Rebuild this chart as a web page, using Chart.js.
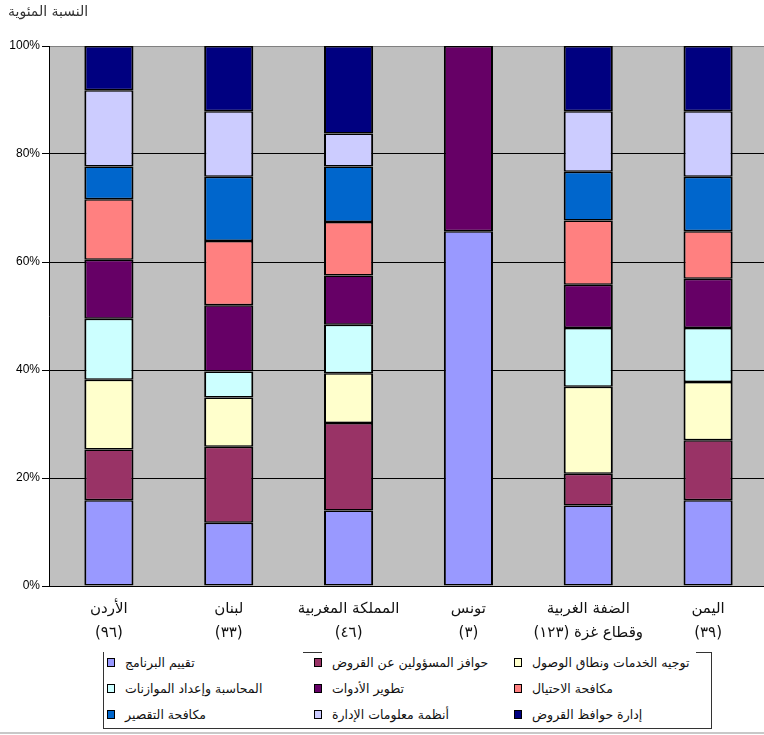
<!DOCTYPE html>
<html>
<head>
<meta charset="utf-8">
<script src="https://cdn.jsdelivr.net/npm/chart.js@4.4.1/dist/chart.umd.min.js"></script>
<style>
  html, body { margin: 0; padding: 0; background: #fff; overflow: hidden; }
  #wrap { position: relative; width: 764px; height: 735px; overflow: hidden; }
  #predChart { position: absolute; left: 0; top: 0; }
  #yTitle {
    position: absolute; left: 8px; top: 3px;
    font: 14px "DejaVu Sans", sans-serif; color: #333; direction: rtl;
  }
  #legend {
    position: absolute; left: 103px; top: 652px; width: 607px; height: 76px;
    border-left: 1px solid #333; border-right: 1px solid #333; border-bottom: 1px solid #333;
  }
  #legend .seg { position: absolute; top: 0; height: 1px; background: #333; }
  #legend .item {
    position: absolute; display: flex; align-items: center;
    font: 12.5px "DejaVu Sans", sans-serif; color: #111; white-space: nowrap;
  }
  #legend .sw { width: 6px; height: 7px; border: 1px solid #000; margin-right: 10px; }
  #bottomLine { position: absolute; left: 0; top: 732px; width: 764px; height: 2px; background: #c8c8c8; }
</style>
</head>
<body>
<div id="wrap">
  <canvas id="predChart" width="768" height="645"></canvas>
  <div id="yTitle">النسبة المئوية</div>
  <div id="legend"></div>
  <div id="bottomLine"></div>
</div>
<script>
// ===== Data
const categories = [
  ['الأردن', '(٩٦)'],
  ['لبنان', '(٣٣)'],
  ['المملكة المغربية', '(٤٦)'],
  ['تونس', '(٣)'],
  ['الضفة الغربية', 'وقطاع غزة (١٢٣)'],
  ['اليمن', '(٣٩)']
];
const seriesNames = [
  'تقييم البرنامج',
  'حوافز المسؤولين عن القروض',
  'توجيه الخدمات ونطاق الوصول',
  'المحاسبة وإعداد الموازنات',
  'تطوير الأدوات',
  'مكافحة الاحتيال',
  'مكافحة التقصير',
  'أنظمة معلومات الإدارة',
  'إدارة حوافظ القروض'
];
const seriesColors = ['#9999FF', '#993366', '#FFFFCC', '#CCFFFF', '#660066', '#FF8080', '#0066CC', '#CCCCFF', '#000080'];

const programEval   = [15.9, 11.7, 14.0, 65.7, 14.9, 15.9];
const officerIncent = [9.4, 14.1, 16.2, null, 5.9, 11.1];
const outreach      = [12.9, 9.1, 9.2, null, 16.1, 10.8];
const accounting    = [11.3, 4.8, 9.0, null, 10.9, 10.0];
const toolsDev      = [10.9, 12.3, 9.1, 34.3, 8.0, 9.1];
const fraud         = [11.2, 11.9, 9.9, null, 11.9, 8.8];
const delinquency   = [6.1, 11.9, 10.3, null, 9.0, 10.1];
const mis           = [14.1, 12.1, 6.1, null, 11.2, 12.1];
const portfolio     = [8.2, 12.1, 16.2, null, 12.1, 12.1];
const seriesValues = [programEval, officerIncent, outreach, accounting, toolsDev, fraud, delinquency, mis, portfolio];

const yTicks = [0, 20, 40, 60, 80, 100];

// ===== Plot background
const plotBg = {
  id: 'plotBg',
  beforeDraw(chart) {
    const { ctx, chartArea: a } = chart;
    ctx.save();
    ctx.fillStyle = '#C0C0C0';
    ctx.fillRect(a.left, a.top, a.right - a.left, a.bottom - a.top);
    ctx.restore();
  }
};

const ctx = document.getElementById('predChart').getContext('2d');
const chart = new Chart(ctx, {
  type: 'bar',
  data: {
    labels: categories,
    datasets: seriesNames.map((name, i) => ({
      label: name,
      data: seriesValues[i],
      backgroundColor: seriesColors[i],
      borderColor: '#000',
      borderWidth: { left: 2, right: 2, top: 1.5, bottom: 1.5 },
      borderSkipped: false,
      barPercentage: 0.41,
      categoryPercentage: 1
    }))
  },
  plugins: [plotBg],
  options: {
    responsive: false,
    animation: false,
    layout: { padding: { top: 46, left: 0, right: 0, bottom: 0 } },
    plugins: { legend: { display: false }, tooltip: { enabled: false } },
    scales: {
      x: {
        stacked: true,
        grid: { display: false },
        border: { display: true, color: '#000', width: 1 },
        ticks: {
          color: '#111',
          padding: 3,
          maxRotation: 0,
          autoSkip: false,
          font: { family: 'DejaVu Sans', size: 15, lineHeight: 1.6 }
        },
        afterFit: s => { s.height = 59; }
      },
      y: {
        stacked: true,
        min: 0,
        max: 100,
        afterBuildTicks: s => { s.ticks = yTicks.map(v => ({ value: v })); },
        grid: {
          color: c => (c.tick && c.tick.value === 100 ? '#808080' : '#000'),
          tickColor: '#000',
          tickLength: 7,
          lineWidth: 1
        },
        border: { display: true, color: '#000', width: 1 },
        ticks: {
          color: '#000',
          padding: 2,
          font: { family: 'Liberation Sans', size: 12 },
          callback: v => v + '%'
        },
        afterFit: s => { s.width = 49; }
      }
    }
  }
});

// ===== Legend (3 x 3 grid, built from the datasets)
const legendEl = document.getElementById('legend');
const colX = [3, 210, 410];
const rowY = [3, 29, 55];
[[199, 218], [592, 607]].forEach(([a, b]) => {
  const s = document.createElement('div');
  s.className = 'seg';
  s.style.left = a + 'px';
  s.style.width = (b - a) + 'px';
  legendEl.appendChild(s);
});
chart.data.datasets.forEach((ds, i) => {
  const item = document.createElement('div');
  item.className = 'item';
  item.style.left = colX[i % 3] + 'px';
  item.style.top = rowY[Math.floor(i / 3)] + 'px';
  const sw = document.createElement('span');
  sw.className = 'sw';
  sw.style.background = ds.backgroundColor;
  const txt = document.createElement('span');
  txt.dir = 'rtl';
  txt.textContent = ds.label;
  item.appendChild(sw);
  item.appendChild(txt);
  legendEl.appendChild(item);
});
</script>
</body>
</html>
